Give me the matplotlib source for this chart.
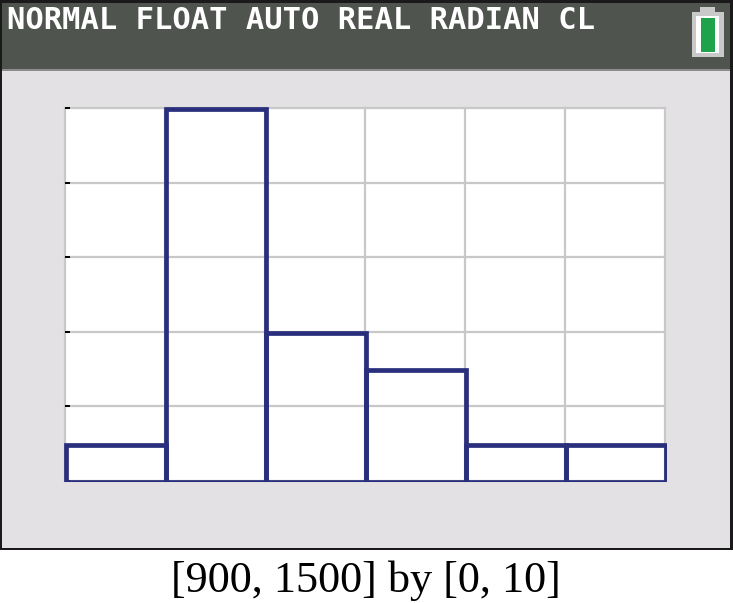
import matplotlib
matplotlib.use('Agg')
import matplotlib.pyplot as plt
from matplotlib.patches import Rectangle
from matplotlib.transforms import Bbox, offset_copy
import numpy as np

# histogram values
bin_edges = [900, 1000, 1100, 1200, 1300, 1400, 1500]
counts = [1, 10, 4, 3, 1, 1]
status_text = "NORMAL FLOAT AUTO REAL RADIAN CL"
caption = "[900, 1500] by [0, 10]"

W = 733
H = 603

fig = plt.figure(figsize=(W / 100, H / 100), dpi=100, facecolor='white')


# figure rectangle given in pixels from the top left
def box(x0, y0, x1, y1, color, zorder=0):
    r = Rectangle((x0 / W, 1 - y1 / H), (x1 - x0) / W, (y1 - y0) / H,
                  transform=fig.transFigure, facecolor=color, edgecolor='none',
                  zorder=zorder)
    fig.add_artist(r)


# calculator screen
box(0, 0, 733, 550, '#1a1a1a', 0)
box(2, 70, 730, 548, '#e3e1e4', 1)
box(2, 3, 730, 70, '#50544f', 1)
box(2, 69, 730, 71, '#8b8c8b', 1)

# battery icon
box(692, 12, 724, 57, '#c9c9ca', 2)
box(700, 7, 715, 13, '#c9c9ca', 2)
box(696, 16, 719, 53, '#ffffff', 3)
box(701, 18, 715, 52, '#1fa34a', 4)

fig.text(7 / W, 1 - 29 / H, status_text, color='white', fontsize=22.0,
         family='DejaVu Sans Mono', fontweight='bold', ha='left',
         va='baseline', zorder=5)

ax = fig.add_axes([65 / W, 1 - 481 / H, (665 - 65) / W, (481 - 108) / H], zorder=6)
ax.set_facecolor('white')
ax.set_xlim(900, 1500)
ax.set_ylim(0, 10)
ax.set_xticks(bin_edges)
ax.set_yticks(np.arange(0, 11, 2))
ax.grid(True, color='#c8c8c8', lw=1.6, clip_on=False)
ax.set_axisbelow(True)
ax.tick_params(axis='x', length=0, labelbottom=False)
ax.tick_params(axis='y', direction='in', length=3.6, width=1.4, color='black',
               labelleft=False)
for s in ax.spines.values():
    s.set_visible(False)

# bars sit about a pixel right of and below the grid on the screen
bar_trans = offset_copy(ax.transData, fig=fig, x=1, y=-1, units='dots')
# the baseline and right side are cut thin at the plot edge
bar_clip = Bbox([[60, H - 482], [667, H - 100]])
bars = ax.bar(bin_edges[:-1], counts, width=np.diff(bin_edges), align='edge',
              facecolor='none', edgecolor='#2a2f7d', linewidth=3.4, zorder=3)
for p in bars:
    p.set_transform(bar_trans)
    p.set_clip_box(bar_clip)

fig.text(366 / W, 1 - 592 / H, caption, color='black', fontsize=31.9,
         family='Liberation Serif', ha='center', va='baseline')

fig.savefig('out.png', dpi=100)
